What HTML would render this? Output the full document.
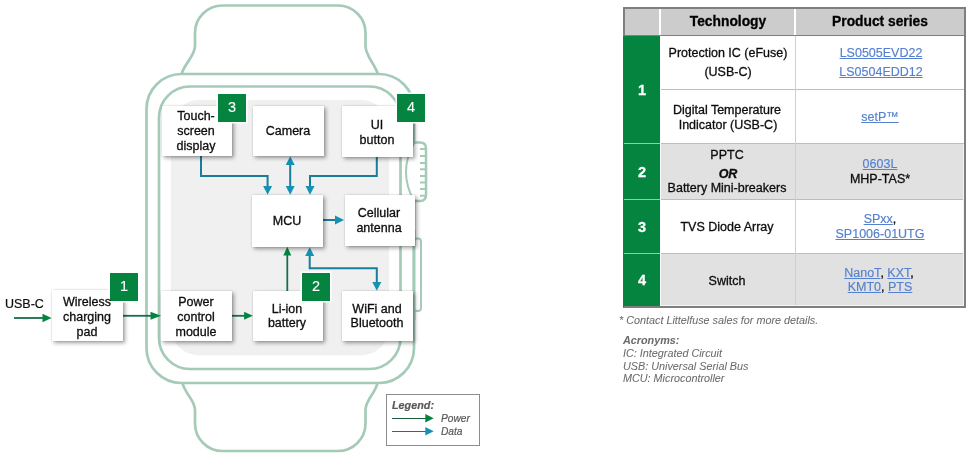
<!DOCTYPE html>
<html><head><meta charset="utf-8">
<style>
html,body{margin:0;padding:0;background:#fff;}
body{width:968px;height:455px;position:relative;overflow:hidden;font-family:"Liberation Sans",sans-serif;}
.abs{position:absolute;}
svg.w{position:absolute;left:0;top:0;}
.box{position:absolute;background:#fff;box-shadow:2px 2px 4px rgba(0,0,0,0.38),0 0 1px rgba(0,0,0,0.25);}
.badge{position:absolute;width:28px;height:28px;background:#058440;box-shadow:0 0 0 1.5px #fff;}
.c{position:absolute;width:300px;will-change:transform;-webkit-text-stroke:0.3px currentColor;text-align:center;white-space:nowrap;line-height:1;}
.l{position:absolute;will-change:transform;-webkit-text-stroke:0.2px currentColor;white-space:nowrap;line-height:1;}
.lnk{color:#5580cf;text-decoration:underline;text-underline-offset:1px;-webkit-text-stroke:0.15px #5580cf;}
</style></head><body>
<svg class="w" width="968" height="455" viewBox="0 0 968 455">
  <rect x="171" y="100" width="218" height="255.5" rx="28" fill="#f0f0f0"/>
  <g fill="none" stroke="#a5cbb8" stroke-width="2.7">
    <path d="M181.5,74.5 C184,64 195,56 195,46 V33 A27.5,27.5 0 0 1 222.5,5.5 H338 A27.5,27.5 0 0 1 365.5,33 V46 C365.5,56 375,64 378,74.5"/>
    <path d="M182.5,383 C185,394 195,400 195,410 V423.5 A27.5,27.5 0 0 0 222.5,451 H338 A27.5,27.5 0 0 0 365.5,423.5 V410 C365.5,400 375,394 377.5,383"/>
    <rect x="146.5" y="74" width="267.5" height="309" rx="35"/>
    <rect x="159" y="86.5" width="241.5" height="282.5" rx="31"/>
  </g>
  <rect x="411" y="144" width="8" height="56" fill="#fff"/>
  <path d="M414,143 Q398,172 414,201" fill="none" stroke="#a5cbb8" stroke-width="2"/>
  <path d="M414,142.5 H420 Q426,142.5 426,148.5 V195 Q426,201 420,201 H414" fill="none" stroke="#a5cbb8" stroke-width="2.5"/>
  <g stroke="#a5cbb8" stroke-width="2">
    <path d="M420,149.1H426M420,156.1H426M420,163H426M420,169.3H426M420,176H426M420,182.6H426M420,188.9H426M420,195.8H426"/>
  </g>
  <rect x="414" y="238.5" width="7" height="72.5" rx="3" fill="#fff" stroke="#a5cbb8" stroke-width="2"/>
  <line x1="414" y1="230" x2="414" y2="320" stroke="#a5cbb8" stroke-width="3"/>
  <g fill="none" stroke="#1a7d9a" stroke-width="2">
    <path d="M201,156 V176 H267.6 V187"/>
    <path d="M290.2,165 V187"/>
    <path d="M376.8,157 V176 H310 V187"/>
    <path d="M323,220 H336"/>
    <path d="M309.7,255 V268.3 H376.8 V283"/>
  </g>
  <g fill="#1592b3">
    <path d="M263.1,186 H272.1 L267.6,194.8 Z"/>
    <path d="M285.7,186 H294.7 L290.2,194.8 Z"/>
    <path d="M285.7,165 H294.7 L290.2,156.2 Z"/>
    <path d="M305.5,186 H314.5 L310,194.8 Z"/>
    <path d="M335,215.5 V224.5 L344,220 Z"/>
    <path d="M305.2,256 H314.2 L309.7,247.2 Z"/>
    <path d="M372.3,282 H381.3 L376.8,290.8 Z"/>
  </g>
  <g fill="none" stroke="#176e48" stroke-width="1.8">
    <path d="M14,318 H44"/>
    <path d="M123,315.8 H153"/>
    <path d="M232,315.8 H245"/>
    <path d="M287.3,291 V255"/>
  </g>
  <g fill="#058440">
    <path d="M42.5,313.7 V322.3 L51.5,318 Z"/>
    <path d="M150.5,311.8 V319.8 L161,315.8 Z"/>
    <path d="M244.1,311.8 V319.8 L252.8,315.8 Z"/>
    <path d="M283.3,255.5 H291.3 L287.3,246.8 Z"/>
  </g>
</svg>
<div class="box" style="left:162px;top:106px;width:70px;height:50px;"></div>
<div class="box" style="left:253px;top:106px;width:71px;height:50px;"></div>
<div class="box" style="left:342px;top:106px;width:71px;height:51px;"></div>
<div class="box" style="left:252px;top:195px;width:71px;height:52px;"></div>
<div class="box" style="left:345px;top:195px;width:70px;height:51px;"></div>
<div class="box" style="left:52px;top:290px;width:71px;height:51px;"></div>
<div class="box" style="left:161px;top:291px;width:71px;height:50px;"></div>
<div class="box" style="left:253px;top:291px;width:70px;height:50px;"></div>
<div class="box" style="left:342px;top:291px;width:71px;height:50px;"></div>
<div class="badge" style="left:218px;top:94px;"></div>
<div class="c" style="left:81.6px;top:100.2px;font-size:14.5px;color:#fff;-webkit-text-stroke:0.1px #fff;">3</div>
<div class="badge" style="left:397px;top:94px;"></div>
<div class="c" style="left:260.6px;top:100.2px;font-size:14.5px;color:#fff;-webkit-text-stroke:0.1px #fff;">4</div>
<div class="badge" style="left:110px;top:273px;"></div>
<div class="c" style="left:-26.4px;top:279.2px;font-size:14.5px;color:#fff;-webkit-text-stroke:0.1px #fff;">1</div>
<div class="badge" style="left:302px;top:273px;"></div>
<div class="c" style="left:165.6px;top:279.2px;font-size:14.5px;color:#fff;-webkit-text-stroke:0.1px #fff;">2</div>
<div class="c" style="left:45.6px;top:109.8px;font-size:12.5px;color:#0d0d0d;">Touch-</div>
<div class="c" style="left:45.6px;top:125.0px;font-size:12.5px;color:#0d0d0d;">screen</div>
<div class="c" style="left:45.6px;top:140.2px;font-size:12.5px;color:#0d0d0d;">display</div>
<div class="c" style="left:137.6px;top:124.7px;font-size:12.5px;color:#0d0d0d;">Camera</div>
<div class="c" style="left:226.6px;top:118.8px;font-size:12.5px;color:#0d0d0d;">UI</div>
<div class="c" style="left:226.6px;top:134.0px;font-size:12.5px;color:#0d0d0d;">button</div>
<div class="c" style="left:137.1px;top:214.7px;font-size:12.5px;color:#0d0d0d;">MCU</div>
<div class="c" style="left:229.1px;top:206.7px;font-size:12.5px;color:#0d0d0d;">Cellular</div>
<div class="c" style="left:229.1px;top:221.9px;font-size:12.5px;color:#0d0d0d;">antenna</div>
<div class="c" style="left:-63.4px;top:295.7px;font-size:12.5px;color:#0d0d0d;">Wireless</div>
<div class="c" style="left:-63.4px;top:310.9px;font-size:12.5px;color:#0d0d0d;">charging</div>
<div class="c" style="left:-63.4px;top:326.1px;font-size:12.5px;color:#0d0d0d;">pad</div>
<div class="c" style="left:45.6px;top:295.9px;font-size:12.5px;color:#0d0d0d;">Power</div>
<div class="c" style="left:45.6px;top:311.1px;font-size:12.5px;color:#0d0d0d;">control</div>
<div class="c" style="left:45.6px;top:326.3px;font-size:12.5px;color:#0d0d0d;">module</div>
<div class="c" style="left:137.1px;top:302.5px;font-size:12.5px;color:#0d0d0d;">Li-ion</div>
<div class="c" style="left:137.1px;top:317.4px;font-size:12.5px;color:#0d0d0d;">battery</div>
<div class="c" style="left:226.6px;top:302.5px;font-size:12.5px;color:#0d0d0d;">WiFi and</div>
<div class="c" style="left:226.6px;top:317.4px;font-size:12.5px;color:#0d0d0d;">Bluetooth</div>
<div class="l" style="left:5.0px;top:297.6px;font-size:12.5px;color:#0d0d0d;">USB-C</div>
<div class="abs" style="left:386px;top:394px;width:92px;height:50px;border:1px solid #8c8c8c;"></div>
<div class="l" style="left:391.5px;top:399.8px;font-size:10.8px;color:#595959;font-weight:bold;font-style:italic;">Legend:</div>
<svg class="w" width="968" height="455" viewBox="0 0 968 455">
  <path d="M392,418.5 H426" stroke="#1b5f3d" stroke-width="1.1"/>
  <path d="M425.3,414 V422.5 L433.7,418.2 Z" fill="#058440"/>
  <path d="M392,431.5 H426" stroke="#1d6c8c" stroke-width="1.1"/>
  <path d="M425.3,427 V435.5 L433.7,431.3 Z" fill="#1592b3"/>
</svg>
<div class="l" style="left:440.5px;top:414.3px;font-size:10.2px;color:#595959;font-style:italic;">Power</div>
<div class="l" style="left:440.5px;top:427.1px;font-size:10.2px;color:#595959;font-style:italic;">Data</div>
<div class="abs" style="left:623px;top:7px;width:343px;height:300.5px;background:#7f7f7f;"></div>
<div class="abs" style="left:625px;top:9px;width:339px;height:297px;background:#fff;"></div>
<div class="abs" style="left:625px;top:9px;width:339px;height:26px;background:#cccccc;"></div>
<div class="abs" style="left:625px;top:35px;width:339px;height:1px;background:#808080;"></div>
<div class="abs" style="left:659px;top:9px;width:2px;height:26px;background:#fff;"></div>
<div class="abs" style="left:794px;top:9px;width:2px;height:26px;background:#fff;"></div>
<div class="abs" style="left:624px;top:36px;width:36px;height:270px;background:#058440;"></div>
<div class="abs" style="left:623px;top:36px;width:1px;height:271px;background:#4d5e52;"></div>
<div class="abs" style="left:624px;top:143px;width:36px;height:1px;background:#86d3a4;"></div>
<div class="abs" style="left:624px;top:199px;width:36px;height:1px;background:#86d3a4;"></div>
<div class="abs" style="left:624px;top:253px;width:36px;height:1px;background:#86d3a4;"></div>
<div class="abs" style="left:661px;top:144px;width:303px;height:55px;background:#e1e1e1;"></div>
<div class="abs" style="left:661px;top:254px;width:303px;height:52px;background:#e1e1e1;"></div>
<div class="abs" style="left:661px;top:89px;width:303px;height:1px;background:#bdbdbd;"></div>
<div class="abs" style="left:661px;top:143px;width:303px;height:1px;background:#bdbdbd;"></div>
<div class="abs" style="left:661px;top:199px;width:303px;height:1px;background:#bdbdbd;"></div>
<div class="abs" style="left:661px;top:253px;width:303px;height:1px;background:#bdbdbd;"></div>
<div class="abs" style="left:795px;top:36px;width:1px;height:270px;background:#cfcfcf;"></div>
<div class="abs" style="left:963px;top:144px;width:1px;height:162px;background:#f4f4f4;"></div>
<div class="abs" style="left:661px;top:305px;width:303px;height:1px;background:#f4f4f4;"></div>
<div class="c" style="left:578.0px;top:15.2px;font-size:13.8px;color:#000;font-weight:bold;">Technology</div>
<div class="c" style="left:730.3px;top:15.2px;font-size:13.8px;color:#000;font-weight:bold;">Product series</div>
<div class="c" style="left:492.0px;top:82.8px;font-size:14.5px;color:#fff;font-weight:bold;">1</div>
<div class="c" style="left:492.0px;top:164.8px;font-size:14.5px;color:#fff;font-weight:bold;">2</div>
<div class="c" style="left:492.0px;top:219.8px;font-size:14.5px;color:#fff;font-weight:bold;">3</div>
<div class="c" style="left:492.0px;top:273.3px;font-size:14.5px;color:#fff;font-weight:bold;">4</div>
<div class="c" style="left:577.6px;top:47.4px;font-size:12.5px;color:#0d0d0d;">Protection IC (eFuse)</div>
<div class="c" style="left:578.0px;top:66.1px;font-size:12.5px;color:#0d0d0d;">(USB-C)</div>
<div class="c" style="left:730.5px;top:47.4px;font-size:12.5px;color:#0d0d0d;"><span class="lnk">LS0505EVD22</span></div>
<div class="c" style="left:730.5px;top:65.6px;font-size:12.5px;color:#0d0d0d;"><span class="lnk">LS0504EDD12</span></div>
<div class="c" style="left:577.2px;top:104.1px;font-size:12.5px;color:#0d0d0d;">Digital Temperature</div>
<div class="c" style="left:577.6px;top:118.5px;font-size:12.5px;color:#0d0d0d;">Indicator (USB-C)</div>
<div class="c" style="left:730.0px;top:110.6px;font-size:12.5px;color:#0d0d0d;"><span class="lnk">setP™</span></div>
<div class="c" style="left:577.2px;top:148.8px;font-size:12.5px;color:#0d0d0d;">PPTC</div>
<div class="c" style="left:578.0px;top:167.9px;font-size:12.5px;color:#0d0d0d;font-weight:bold;font-style:italic;">OR</div>
<div class="c" style="left:577.2px;top:182.4px;font-size:12.5px;color:#0d0d0d;">Battery Mini-breakers</div>
<div class="c" style="left:730.0px;top:157.8px;font-size:12.5px;color:#0d0d0d;"><span class="lnk">0603L</span></div>
<div class="c" style="left:730.0px;top:172.5px;font-size:12.5px;color:#0d0d0d;">MHP-TAS*</div>
<div class="c" style="left:577.2px;top:221.2px;font-size:12.5px;color:#0d0d0d;">TVS Diode Array</div>
<div class="c" style="left:729.7px;top:213.3px;font-size:12.5px;color:#0d0d0d;"><span class="lnk">SPxx</span>,</div>
<div class="c" style="left:729.7px;top:227.5px;font-size:12.5px;color:#0d0d0d;"><span class="lnk">SP1006-01UTG</span></div>
<div class="c" style="left:577.1px;top:274.9px;font-size:12.5px;color:#0d0d0d;">Switch</div>
<div class="c" style="left:729.4px;top:267.0px;font-size:12.5px;color:#0d0d0d;"><span class="lnk">NanoT</span>, <span class="lnk">KXT</span>,</div>
<div class="c" style="left:730.3px;top:281.3px;font-size:12.5px;color:#0d0d0d;"><span class="lnk">KMT0</span>, <span class="lnk">PTS</span></div>
<div class="l" style="left:619.0px;top:314.6px;font-size:10.8px;color:#6b6b6b;font-style:italic;-webkit-text-stroke:0.05px;">* Contact Littelfuse sales for more details.</div>
<div class="l" style="left:623.0px;top:334.8px;font-size:10.8px;color:#6b6b6b;font-style:italic;font-weight:bold;-webkit-text-stroke:0.05px;">Acronyms:</div>
<div class="l" style="left:623.0px;top:347.8px;font-size:10.8px;color:#6b6b6b;font-style:italic;-webkit-text-stroke:0.05px;">IC: Integrated Circuit</div>
<div class="l" style="left:623.0px;top:360.8px;font-size:10.8px;color:#6b6b6b;font-style:italic;-webkit-text-stroke:0.05px;">USB: Universal Serial Bus</div>
<div class="l" style="left:623.0px;top:373.2px;font-size:10.8px;color:#6b6b6b;font-style:italic;-webkit-text-stroke:0.05px;">MCU: Microcontroller</div>
</body></html>
